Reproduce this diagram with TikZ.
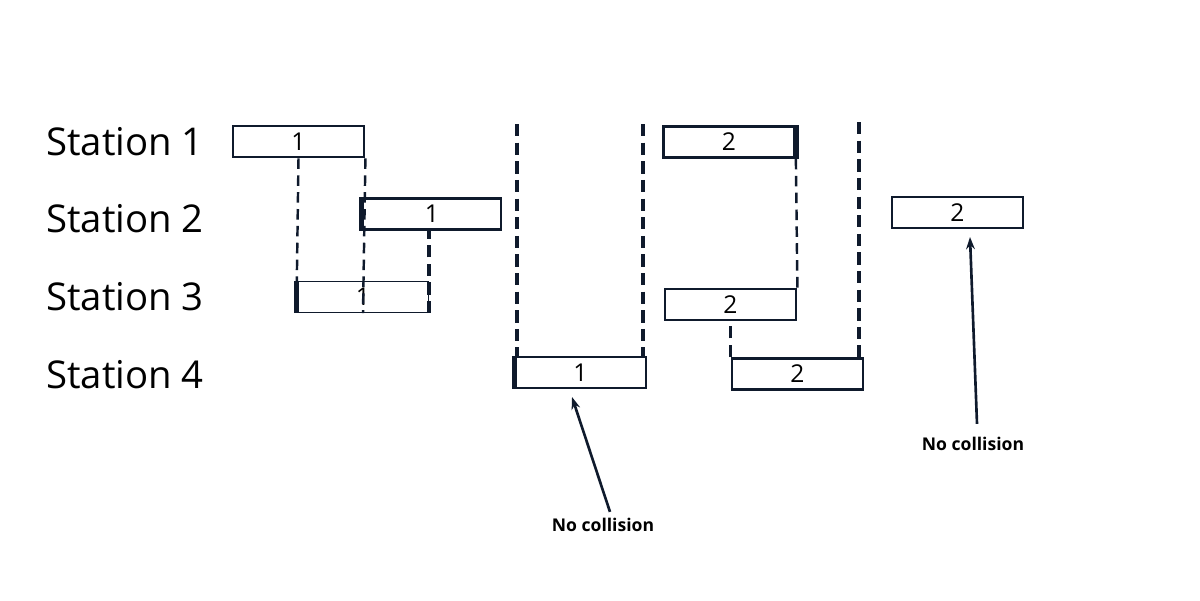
\documentclass[tikz,border=0pt]{standalone}
\usepackage{fontspec}
\setmainfont{Open Sans}
\usetikzlibrary{arrows.meta,calc}
\definecolor{ink}{HTML}{0F1A2C}

\begin{document}
\begin{tikzpicture}[x=0.02cm,y=-0.02cm,
    slot/.style={draw=ink,line width=1.6pt,minimum width=2.62cm,minimum height=0.62cm,
      inner sep=0pt,font=\fontsize{14}{16}\selectfont},
    thinslot/.style={slot,line width=0.8pt},
    station/.style={anchor=west,inner sep=0pt,font=\fontsize{21.8}{26}\selectfont},
    note/.style={inner sep=0pt,font=\bfseries\fontsize{10}{12}\selectfont},
    bigdash/.style={draw=ink,line width=2pt,dash pattern=on 7pt off 3.6pt},
    smalldash/.style={draw=ink,line width=1.4pt,dash pattern=on 6pt off 3.6pt},
    pointer/.style={draw=ink,line width=1.5pt,-{Stealth[length=7pt,width=5pt]}}]
  \useasboundingbox (0,0) rectangle (1200,600);
  % station labels
  \node[station] (st1) at (46,142) {Station 1};
  \node[station] (st2) at (46,219) {Station 2};
  \node[station] (st3) at (46,297) {Station 3};
  \node[station] (st4) at (46,375) {Station 4};
  % first round of frames
  \node[slot] (s1a) at (298.5,141.5) {1};
  \node[slot,minimum width=2.76cm] (s2a) at (432,214) {1};
  \node[thinslot] (s3a) at (363,297) {1};
  \node[thinslot] (s4a) at (580.5,372.5) {1};
  % second round of frames
  \node[slot] (s1b) at (729,142) {2};
  \node[slot] (s3b) at (730.5,304.5) {2};
  \node[slot] (s4b) at (797.5,374) {2};
  \node[slot] (s2b) at (957.5,212.5) {2};
  % heavier edges
  \draw[ink,line width=2.6pt] (s2a.north west) -- (s2a.south west);
  \draw[ink,line width=3pt] (s3a.north west) -- (s3a.south west);
  \draw[ink,line width=3.2pt] (s4a.north west) -- (s4a.south west);
  \draw[ink,line width=3pt] (s1b.north east) -- (s1b.south east);
  % propagation lines
  \draw[smalldash] (s1a.south) -- (s3a.north west);
  \draw[smalldash] (s1a.south east) -- (s3a.south);
  \draw[bigdash] (s3a.south east) -- (s3a.south east |- s2a.south);
  \coordinate (t1) at (517,124);
  \coordinate (t2) at (643,124);
  \coordinate (t3) at (859,122);
  \draw[bigdash] (t1) -- (t1 |- s4a.north);
  \draw[bigdash] (t2) -- (t2 |- s4a.north);
  \draw[smalldash] (s1b.south east) -- (s3b.north east);
  \draw[bigdash] (s4b.north west) -- (s4b.north west |- s3b.south);
  \draw[bigdash] (t3) -- (t3 |- s4b.north);
  % notes
  \node[note] (n1) at (603,525) {No collision};
  \node[note] (n2) at (973,444) {No collision};
  \coordinate (h1) at (572,397);
  \coordinate (h2) at (970,237);
  \draw[pointer] ($(n1.north)+(7,-6)$) -- (h1);
  \draw[pointer] ($(n2.north)+(4,-13)$) -- (h2);
\end{tikzpicture}
\end{document}
